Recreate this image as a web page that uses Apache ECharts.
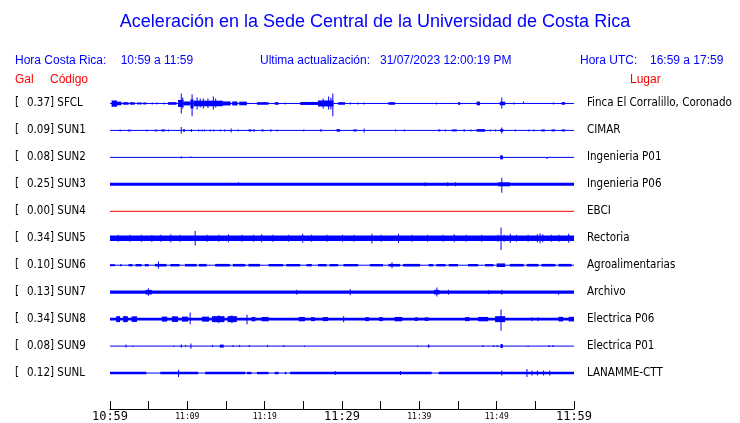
<!DOCTYPE html>
<html><head><meta charset="utf-8">
<script src="https://cdn.jsdelivr.net/npm/echarts@6/dist/echarts.min.js"></script>
<style>html,body{margin:0;padding:0;background:#fff}#c{width:740px;height:423px}</style>
</head><body><div id="c"></div>
<script>
// ---- data ----
const codes = ['SFCL','SUN1','SUN2','SUN3','SUN4','SUN5','SUN6','SUN7','SUN8','SUN9','SUNL'];
const peaks = ['0.37','0.09','0.08','0.25','0.00','0.34','0.10','0.13','0.34','0.08','0.12'];
const places = ['Finca El Corralillo, Coronado','CIMAR','Ingenieria P01','Ingenieria P06','EBCI','Rectoria','Agroalimentarias','Archivo','Electrica P06','Electrica P01','LANAMME-CTT'];
const tickLabels = ['10:59','','11:09','','11:19','','11:29','','11:39','','11:49','','11:59'];
// envelope segments: [startMinute, endMinute, amplitudeUp, amplitudeDown]
const segSFCL = [[0.2,0.9,3,3.3],[0.9,1.5,1.8,1.8],[1.7,2.4,1.3,1.3],[2.6,3.2,1.3,1.3],[3.5,4.1,1,1],[4.3,4.7,1,1],[5.4,5.45,1,1],[6.0,6.05,1,1],[6.9,6.95,1,1],[7.5,8.6,1.3,1.3],[8.8,9.5,3.5,3.5],[9.15,9.25,10,10],[9.35,9.4,6,5],[9.5,10.4,2,2],[10.4,10.8,4,5],[10.55,10.65,9.3,12.7],[10.8,14.6,2.8,2.8],[11.2,11.25,6,6],[11.6,11.65,5,4],[12.0,12.05,5,5],[12.6,12.65,5,4.5],[13.3,13.35,7,6],[13.6,13.65,5,4],[14.6,15.6,2,2],[15.8,16.5,2,2],[16.7,17.7,1.8,1.8],[19,20.5,1.3,1.3],[21.3,21.8,1.3,1.3],[22.6,22.65,1,1],[24.6,26.9,1.5,1.5],[26.9,28.9,3,3],[27.5,27.55,5,5],[28.2,28.25,7,6],[28.5,28.55,6,6],[28.75,28.82,10,12.7],[29.5,30.4,1.3,1.3],[31,31.05,1,1],[32,32.05,1,1],[32.75,32.8,1,1],[36,36.85,1.3,1.3],[42.15,42.2,1,1],[45,45.3,1.3,1.3],[47.4,47.85,1.8,1.8],[50.4,51.1,1.8,1.8],[50.6,50.7,6,5],[52.15,52.2,1,1],[53.4,53.5,2,0.5],[57.3,57.35,1,1],[58.4,58.85,1.3,1.3]];
const segSUN1 = [[1.25,1.3,1,1],[2.35,2.4,1,1],[2.55,2.6,1,1],[4.7,4.75,1,1],[5.8,5.85,1,1],[6.0,6.05,1,1],[6.65,7.1,1,1],[7.5,7.55,1,1],[9.15,9.2,3.3,3.3],[9.45,9.7,1.3,1.3],[10.45,10.5,1.5,1.5],[11.4,11.45,1,1],[11.85,11.9,1,1],[12.15,12.2,1,1],[12.9,12.95,1,1],[13.35,13.4,1,1],[14.2,14.25,1,1],[14.75,14.8,1,1],[15.6,15.7,2,2],[16.5,16.55,1,1],[17.9,18.3,1,1],[18.5,18.75,1,1],[19.6,19.85,1,1],[20.7,20.9,1,1],[21.55,21.6,1,1],[25,25.05,1,1],[27.15,27.4,1,1],[29.3,29.75,1.3,1.3],[31.45,31.9,1,1],[32.8,32.9,2,2],[36.85,36.9,1,1],[38,38.1,1,1],[42.45,42.7,1,1],[43.3,43.35,1,1],[44.2,44.85,1,1],[45.7,45.9,1,1],[46.6,46.65,1,1],[47.4,48.5,1.3,1.3],[49.1,49.15,1,1],[49.8,49.85,1,1],[50.45,50.85,1.3,1.3],[50.6,50.7,3,3],[52.35,52.4,1,1],[54.1,54.15,1,1],[54.75,54.8,1,1],[55.8,56.25,1,1],[57.1,57.55,1,1],[58.4,58.85,1,1]];
const segSUN2 = [[9.15,9.2,1,1],[10.4,10.45,1,0.3],[50.45,50.8,2,2],[56.45,56.5,0.3,1.5]];
const segSUN3 = [[0,60,1.5,1.5],[16.55,16.6,2.2,0.5],[40.7,40.75,2,2],[43.6,43.7,2,2],[44.6,44.7,2,2],[50.2,51.7,2,2],[50.6,50.7,6.7,8.3]];
const segSUN4 = [];
const segSUN5 = [[0,60,2.7,2.7],[1,1.05,3.5,3.5],[2.5,2.55,3.5,3.5],[4,4.05,3.5,3.5],[5.35,5.4,3.2,3.7],[6.5,6.55,3.5,3.5],[7.8,7.9,4,4],[9,9.05,3.5,3.5],[10.95,11.05,7.3,7.3],[12.5,12.55,3.5,3.5],[14,14.05,3.5,3.5],[15.25,15.35,4,4],[17,17.05,3.5,3.5],[18.5,18.55,3.5,3.5],[19.55,19.65,4,4],[21,21.05,3.5,3.5],[23,23.05,3.5,3.5],[24.85,24.95,4.5,4.5],[26,26.05,3.5,3.5],[28,28.05,3.5,3.5],[30,30.05,3.5,3.5],[31.5,31.55,3.5,3.5],[33.8,33.9,4.5,5.3],[35,35.05,3.5,3.5],[37.25,37.35,4.5,4.5],[39,39.05,3.5,3.5],[41,41.05,3.5,3.5],[43,43.05,3.5,3.5],[44.45,44.55,4,4],[46,46.05,3.5,3.5],[48,48.05,3.5,3.5],[50.1,50.2,3.5,3.5],[50.5,50.6,10.7,11.7],[50.9,51.0,3.5,3.5],[51.7,51.8,4.5,4.5],[52.5,52.55,3.5,3.5],[54,54.05,3.5,3.5],[55.2,55.25,4,4],[55.55,55.65,5,5],[55.9,55.95,4,4],[57,57.05,3.5,3.5],[58,58.05,3.5,3.5],[59.25,59.3,4.5,4.5]];
const segSUN6 = [[0,0.65,1,1],[1.3,1.5,1,1],[2.4,2.9,1.2,1.2],[3.3,4.1,1.2,1.2],[4.5,5.0,1.2,1.2],[5.8,7.3,1.3,1.3],[6.2,6.3,3.7,3.3],[7.8,9.0,1.2,1.2],[9.7,11.2,1.3,1.3],[11.5,12.5,1.3,1.3],[13.6,15.5,1.3,1.3],[15.9,17.5,1.3,1.3],[17.9,19.4,1.3,1.3],[20.5,22.4,1.2,1.2],[22.8,24.6,1.2,1.2],[25.4,26.1,1.2,1.2],[26.9,28.0,1.2,1.2],[28.4,29.5,1.2,1.2],[30.2,32.1,1.2,1.2],[33.6,35.3,1.2,1.2],[36.0,37.5,1.3,1.3],[36.4,36.5,3,3],[37.9,40.1,1.3,1.3],[41.2,41.8,1.2,1.2],[42.2,43.4,1.2,1.2],[43.8,45.0,1.2,1.2],[46.3,47.6,1.2,1.2],[48.5,49.6,1.2,1.2],[50,51.1,1.8,1.8],[51.7,53.5,1.3,1.3],[53.9,55.4,1.3,1.3],[55.8,57.6,1.3,1.3],[58,59.7,1.3,1.3]];
const segSUN7 = [[0,60,1.7,1.7],[4.9,5.0,4,3.7],[4.6,5.4,2.3,2.3],[24.1,24.2,2.5,2.5],[31.0,31.1,3,3],[42.2,42.3,4.7,4.3],[41.9,42.6,2.3,2.3],[43.7,43.8,2.5,2.5],[48.9,49.0,2,2],[50.6,50.7,2.5,2.5],[57.95,58,0.5,2.5]];
const segSUN8 = [[0,60,1.3,1.3],[0.8,1.3,3,3],[1.7,2.3,3,3],[2.8,3.5,2.8,2.8],[6.7,7.4,2.5,2.5],[8.0,8.8,2.8,2.8],[9.3,10.1,2.5,2.5],[10.3,10.4,6.7,5],[11.9,12.8,2.5,2.5],[13.2,14.8,3,3],[14,14.1,4,4],[15.2,16.4,3,3],[15.7,15.8,4,4],[17.65,17.7,4.3,5],[18.3,18.8,2.2,2.2],[19.6,20.5,2.2,2.2],[24.4,25.2,2.2,2.2],[26.0,26.5,2,2],[27.5,28.2,2,2],[30.15,30.2,3,3],[33,33.5,2,2],[34.8,35.3,2,2],[36.8,37.8,2.2,2.2],[39.4,39.8,1.8,1.8],[40.7,41.2,1.8,1.8],[45.9,46.5,2,2],[47.6,48.9,2.2,2.2],[49.8,51.1,3,3],[50.5,50.6,9.7,11.7],[54.5,54.6,2,2],[55.3,55.4,2,2],[58,58.6,2.3,2.3],[59.3,60,2.3,2.3]];
const segSUN9 = [[2.0,2.05,1.5,1.5],[2.9,2.95,0.3,1],[8.2,8.25,0.3,1],[9.15,9.3,1.5,1.5],[9.7,9.75,1,0.3],[10.4,10.45,2.7,2.7],[13.2,13.25,1,1],[14.2,14.7,1.5,1.5],[15.85,15.9,1,1],[16.7,16.75,1,1],[17.95,18,1,1],[20.3,20.35,1,1],[22.4,22.45,1,1],[25.1,25.15,0.3,1],[39.7,39.75,0.3,1],[41.1,41.3,1.5,1.5],[48.15,48.2,1,1],[49.55,49.6,1,1],[50,50.05,1,1],[50.5,50.8,2,2],[54,54.05,0.3,1],[56.7,56.75,1,1],[57.2,57.25,1,1]];
const segSUNL = [[0,4.7,1.2,1.2],[6.5,11.4,1.2,1.2],[8.8,8.9,3.3,4],[12.3,17.5,1.2,1.2],[17.7,18.3,1.2,1.2],[19,20.5,1.2,1.2],[21.3,21.8,1.2,1.2],[22.6,22.8,1.2,1.2],[23.3,41.6,1.3,1.3],[29.05,29.1,2,2],[37.5,37.55,2,2],[42.5,60,1.3,1.3],[50.6,50.7,2.5,2.5],[53.85,53.9,4,4],[54.5,54.55,2.5,2.5],[55.2,55.25,2.5,2.5],[56.0,56.05,2.5,2.5],[56.8,56.85,2.5,2.5]];
const segments = [segSFCL,segSUN1,segSUN2,segSUN3,segSUN4,segSUN5,segSUN6,segSUN7,segSUN8,segSUN9,segSUNL];
const traceColors = ['#0000ff','#0000ff','#0000ff','#0000ff','#ff0000','#0000ff','#0000ff','#0000ff','#0000ff','#0000ff','#0000ff'];

// ---- chart ----
const ROW = 27, AMP = 1 / ROW;
const chart = echarts.init(document.getElementById('c'), null, {renderer: 'canvas'});
const series = [];
codes.forEach((c, i) => {
  const row = i + 1;
  series.push({type: 'line', silent: true, symbol: 'none', animation: false,
    data: [[0, row], [60, row]], lineStyle: {width: 1, color: traceColors[i]}});
  series.push({type: 'custom', silent: true, animation: false,
    data: segments[i].map(s => [row, s[0], s[1], s[2], s[3]]),
    encode: {x: [1, 2], y: 0},
    renderItem: (params, api) => {
      const r = api.value(0), s = api.value(1), e = api.value(2), up = api.value(3), dn = api.value(4);
      const p1 = api.coord([s, r - up * AMP]);
      const p2 = api.coord([e, r + dn * AMP]);
      return {type: 'rect', shape: {x: p1[0], y: p1[1], width: Math.max(1, p2[0] - p1[0]), height: Math.max(1, p2[1] - p1[1])},
        style: {fill: traceColors[i]}};
    }});
});
const leftFmt = v => {
  const i = Math.round(v) - 1;
  if (Math.abs(v - Math.round(v)) > 1e-6 || i < 0 || i >= codes.length) return '';
  return '{b|[}{n|' + peaks[i] + ']}{c| ' + codes[i] + '}';
};
const rightFmt = v => {
  const i = Math.round(v) - 1;
  if (Math.abs(v - Math.round(v)) > 1e-6 || i < 0 || i >= codes.length) return '';
  return places[i];
};
const lblFont = "'DejaVu Sans Condensed','DejaVu Sans',sans-serif";
const yCommon = {type: 'value', min: 0, max: 333 / ROW, interval: 1, inverse: true,
  axisLine: {show: false}, axisTick: {show: false}, splitLine: {show: false}};
const hdr = "12px 'Liberation Sans',Arial,sans-serif";
chart.setOption({
  animation: false,
  grid: {left: 110, right: 166, top: 76.5, bottom: 13.5, containLabel: false},
  xAxis: {type: 'value', min: 0, max: 60, interval: 5, position: 'bottom',
    axisLine: {onZero: false, lineStyle: {color: '#000', width: 1}},
    axisTick: {inside: true, length: 8, lineStyle: {color: '#000'}},
    splitLine: {show: false},
    axisLabel: {margin: 2, showMinLabel: true, showMaxLabel: true,
      formatter: v => {
        const k = Math.round(v / 5); const t = tickLabels[k] || '';
        if (!t) return '';
        return k % 6 === 0 ? '{big|' + t + '}' : '{small|' + t + '}';
      },
      rich: {big: {fontFamily: "'DejaVu Sans Mono',monospace", fontSize: 12, color: '#000', lineHeight: 12},
             small: {fontFamily: "'DejaVu Sans Mono',monospace", fontSize: 8, color: '#000', lineHeight: 12}}}},
  yAxis: [
    Object.assign({}, yCommon, {position: 'left', axisLabel: {align: 'left', margin: 95, formatter: leftFmt,
      rich: {b: {fontFamily: lblFont, fontSize: 11.5, color: '#000', width: 12},
             n: {fontFamily: lblFont, fontSize: 11.5, color: '#000'},
             c: {fontFamily: lblFont, fontSize: 11.5, color: '#000'}}}}),
    Object.assign({}, yCommon, {position: 'right', axisLabel: {align: 'left', margin: 13, formatter: rightFmt,
      fontFamily: lblFont, fontSize: 11.5, color: '#000'}})
  ],
  graphic: [
    {type: 'text', x: 375, y: 22, style: {text: 'Aceleración en la Sede Central de la Universidad de Costa Rica', fill: '#0000ff', font: "18px 'Liberation Sans',Arial,sans-serif", textAlign: 'center', textVerticalAlign: 'middle'}},
    {type: 'text', x: 15, y: 61, style: {text: 'Hora Costa Rica:', fill: '#0000ff', font: hdr, textVerticalAlign: 'middle'}},
    {type: 'text', x: 120.7, y: 61, style: {text: '10:59 a 11:59', fill: '#0000ff', font: hdr, textVerticalAlign: 'middle'}},
    {type: 'text', x: 260, y: 61, style: {text: 'Ultima actualización:', fill: '#0000ff', font: hdr, textVerticalAlign: 'middle'}},
    {type: 'text', x: 380, y: 61, style: {text: '31/07/2023 12:00:19 PM', fill: '#0000ff', font: hdr, textVerticalAlign: 'middle'}},
    {type: 'text', x: 580, y: 61, style: {text: 'Hora UTC:', fill: '#0000ff', font: hdr, textVerticalAlign: 'middle'}},
    {type: 'text', x: 650, y: 61, style: {text: '16:59 a 17:59', fill: '#0000ff', font: hdr, textVerticalAlign: 'middle'}},
    {type: 'text', x: 15, y: 80, style: {text: 'Gal', fill: '#ff0000', font: hdr, textVerticalAlign: 'middle'}},
    {type: 'text', x: 50, y: 80, style: {text: 'Código', fill: '#ff0000', font: hdr, textVerticalAlign: 'middle'}},
    {type: 'text', x: 630, y: 80, style: {text: 'Lugar', fill: '#ff0000', font: hdr, textVerticalAlign: 'middle'}}
  ],
  series: series
});
</script></body></html>
